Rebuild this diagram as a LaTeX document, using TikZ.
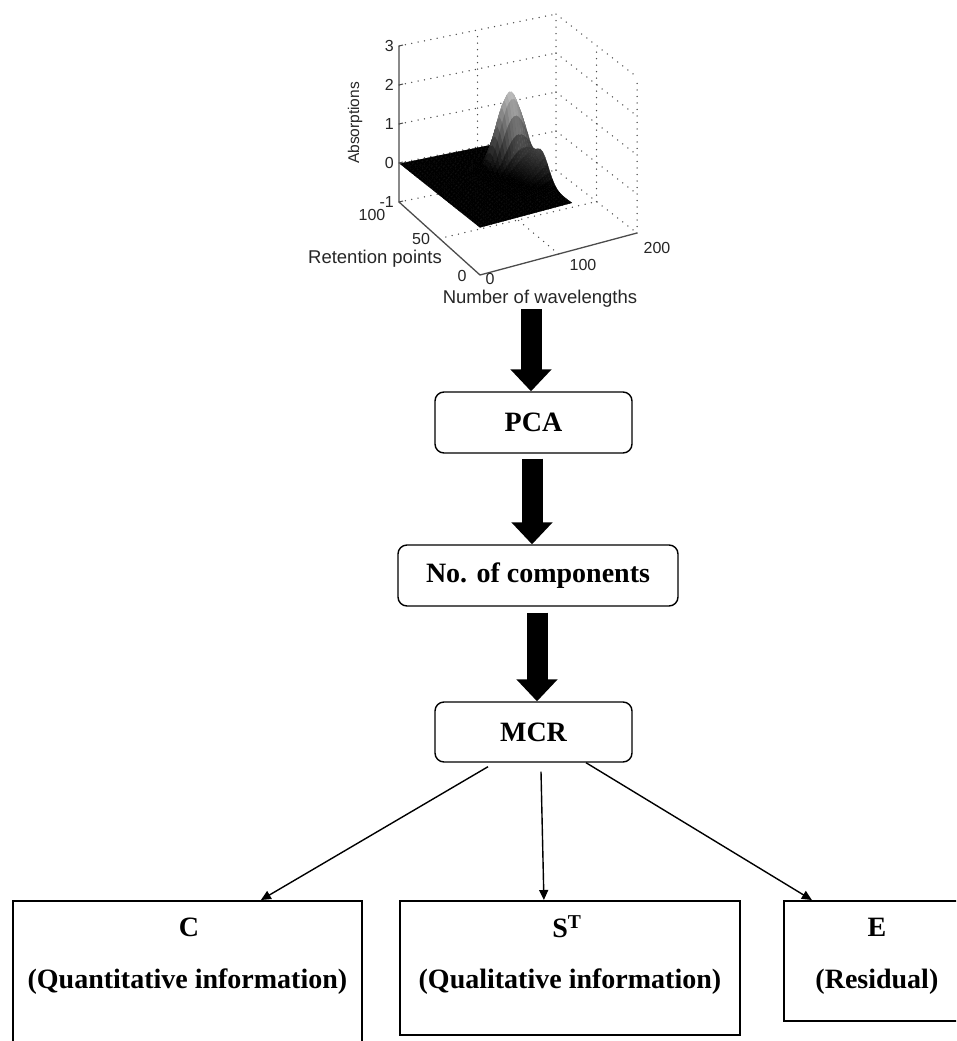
\documentclass[tikz,border=0pt]{standalone}
\usepackage{fontspec}
\setmainfont{Liberation Serif}
\newfontfamily\plotfont{Liberation Sans}
\usetikzlibrary{arrows.meta,calc}

% projection of (retention r, wavelength w, absorption z) to picture coordinates
\newcommand\projP[3]{%
  \pgfmathsetmacro\px{480+0.785*(#2)-0.81*(#1)}%
  \pgfmathsetmacro\py{275-0.21*(#2)-0.73*(#1)+0.0005*(#2)*(#1)-39*((#3)+1)}%
}
\newcommand\gridseg[6]{% r1 w1 z1 r2 w2 z2
  \projP{#1}{#2}{#3}\edef\gxa{\px}\edef\gya{\py}%
  \projP{#4}{#5}{#6}\edef\gxb{\px}\edef\gyb{\py}%
  \draw[griddot] (\gxa,\gya) -- (\gxb,\gyb);%
}

\tikzset{
  flowbox/.style={draw, line width=1.4pt, rounded corners=9pt, minimum width=197pt,
    minimum height=61pt, inner sep=0pt, font=\fontsize{28}{32}\selectfont\bfseries},
  outbox/.style={draw, line width=1.8pt, inner sep=0pt},
  boxtext/.style={font=\fontsize{28}{32}\selectfont\bfseries, inner sep=0pt},
  bigarrow/.style={line width=21pt, -{Triangle[length=22pt,width=40pt]}},
  thinarrow/.style={line width=1.4pt, -{Triangle[length=10pt,width=9pt]}},
  griddot/.style={black!70, line width=1.5pt, line cap=round, dash pattern=on 0pt off 6.5pt},
  axisline/.style={black!70, line width=1.3pt},
  ticklab/.style={font=\plotfont\fontsize{16}{18}\selectfont, inner sep=0pt, text=black!85},
  axlab/.style={font=\plotfont\fontsize{18.5}{20}\selectfont, inner sep=0pt, text=black!85},
}

\begin{document}
\begin{tikzpicture}[x=1pt,y=-1pt]
\useasboundingbox (0,0) rectangle (956,1041);
\clip (0,0) rectangle (956,1041);

% ---------- 3D plot: grid on back walls and floor ----------
\foreach \zz in {-1,0,1,2,3} {
  \gridseg{100}{0}{\zz}{100}{200}{\zz}
  \gridseg{100}{200}{\zz}{0}{200}{\zz}
}
\gridseg{100}{100}{-1}{100}{100}{3}
\gridseg{100}{200}{-1}{100}{200}{3}
\gridseg{50}{200}{-1}{50}{200}{3}
\gridseg{0}{200}{-1}{0}{200}{3}
\gridseg{0}{100}{-1}{100}{100}{-1}
\gridseg{50}{0}{-1}{50}{200}{-1}

% ---------- surface ----------
\foreach \r in {0,3,...,99} {
  \foreach \w in {0,3,...,117} {
    \pgfmathsetmacro\zval{0.22*(100-\r)/100+2.0*exp(max(-1*(((\r-60)/10)^2+((\w-100)/22)^2),-12))+0.9*exp(max(-1*(((\r-38)/13)^2+((\w-130)/35)^2),-12))}
    \expandafter\xdef\csname sz-\r-\w\endcsname{\zval}
    \projP{\r}{\w}{\zval}
    \coordinate (s-\r-\w) at (\px,\py);
  }
}
\foreach \r in {99,96,...,3} {
  \pgfmathtruncatemacro\rn{\r-3}
  \foreach \w in {114,111,...,0} {
    \pgfmathtruncatemacro\wn{\w+3}
    \pgfmathsetmacro\gl{100-100*max(0,min(0.78,((\csname sz-\r-\w\endcsname+\csname sz-\r-\wn\endcsname+\csname sz-\rn-\w\endcsname+\csname sz-\rn-\wn\endcsname)/4-0.3)*0.42))}
    \fill[black!\gl, draw=black!\gl, line width=0.3pt] (s-\r-\w) -- (s-\r-\wn) -- (s-\rn-\wn) -- (s-\rn-\w) -- cycle;
  }
}

% ---------- axes ----------
\coordinate (cL) at (399,202);
\coordinate (cF) at (480,275);
\coordinate (cR) at (637,233);
\coordinate (cT) at (399,46);
\draw[axisline] (cT) -- (cL) -- (cF) -- (cR);
\foreach \zz/\yy in {3/46,2/85,1/124,0/163,-1/202} {
  \draw[axisline, line width=1pt] (399,\yy) -- (403,\yy-1);
  \node[ticklab, anchor=east] (zt\zz) at (394,\yy) {\zz};
}
\node[ticklab] (rt100) at (372,215) {100};
\node[ticklab] (rt50) at (421,239) {50};
\node[ticklab] (rt0) at (462,276) {0};
\node[ticklab] (wt0) at (490,279) {0};
\node[ticklab] (wt100) at (583,265) {100};
\node[ticklab] (wt200) at (657,248) {200};
\node[axlab] (rlab) at (375,259) {Retention points};
\node[axlab] (wlab) at (540,299) {Number of wavelengths};
\node[ticklab, font=\plotfont\fontsize{15.5}{17}\selectfont, rotate=90] (zlab) at (355,123) {Absorptions};
\coordinate (plotout) at (531,309);

% ---------- flow boxes ----------
\node[flowbox] (pca) at (533.5,422.5) {PCA};
\node[flowbox, minimum width=280pt] (noc) at (538,575.5) {No. of components};
\node[flowbox, minimum height=60pt] (mcr) at (533.5,732) {MCR};

\node[outbox, minimum width=349pt, minimum height=160pt, anchor=north west] (cbox) at (12,900) {};
\node[outbox, minimum width=340pt, minimum height=134pt, anchor=north west] (sbox) at (399,900) {};
\node[outbox, minimum width=186pt, minimum height=120pt, anchor=north west] (ebox) at (783,900) {};

\node[boxtext] (ctitle) at ($(cbox.north)+(1.5,27)$) {C};
\node[boxtext] (csub) at ($(cbox.north)+(0,82)$) {(Quantitative information)};
\node[boxtext] (stitle) at ($(sbox.north)+(-3,27)$) {S\textsuperscript{T}};
\node[boxtext] (ssub) at ($(sbox.north)+(0,82)$) {(Qualitative information)};
\node[boxtext] (etitle) at ($(ebox.north)+(0,27)$) {E};
\node[boxtext] (esub) at ($(ebox.north)+(0,82)$) {(Residual)};

% ---------- big arrows ----------
\coordinate (a1e) at (plotout |- pca.north);
\draw[bigarrow] (plotout) -- (a1e);
\coordinate (a2s) at ([xshift=-1.5pt,yshift=-5pt]pca.south);
\coordinate (a2e) at (a2s |- noc.north);
\draw[bigarrow] (a2s) -- (a2e);
\coordinate (a3s) at ([xshift=-1pt,yshift=-6pt]noc.south);
\coordinate (a3e) at (a3s |- mcr.north);
\draw[bigarrow] (a3s) -- (a3e);

% ---------- thin arrows ----------
\draw[thinarrow] ([xshift=-45.5pt,yshift=-4pt]mcr.south) -- ([xshift=73.5pt]cbox.north);
\draw[thinarrow] ([xshift=7.5pt,yshift=-9pt]mcr.south) -- ([xshift=-26pt]sbox.north);
\draw[thinarrow] ([xshift=52.5pt]mcr.south) -- ([xshift=-65pt]ebox.north);
\end{tikzpicture}
\end{document}
